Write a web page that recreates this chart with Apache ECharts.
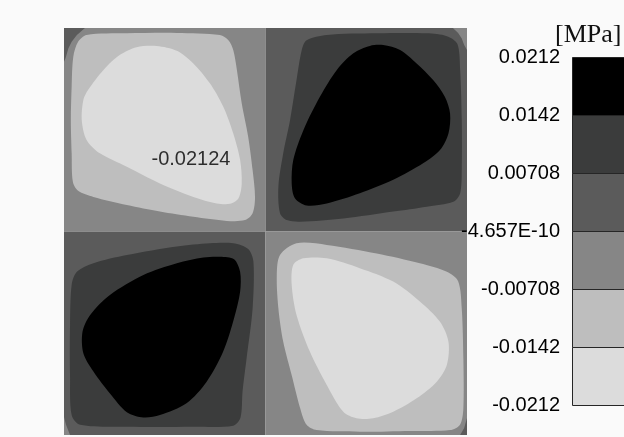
<!DOCTYPE html>
<html>
<head>
<meta charset="utf-8">
<script src="https://cdn.jsdelivr.net/npm/echarts@6/dist/echarts.min.js"></script>
<style>
html,body{margin:0;padding:0;background:#fafafa;}
#chart{width:624px;height:437px;}
</style>
</head>
<body>
<div id="chart"></div>
<script>
// Contour band colours, lowest level first
const bandColors = ['#dcdcdc', '#bebebe', '#868686', '#5b5b5b', '#3b3c3c', '#000000'];
// Level boundaries of the contour bands [MPa]
const levelEdges = [-0.02124, -0.01416, -0.00708, 0, 0.00708, 0.01416, 0.02124];
const tickLabels = ['-0.0212', '-0.0142', '-0.00708', '-4.657E-10', '0.00708', '0.0142', '0.0212'];
// Minimum value and its location on the plate
const minValue = -0.02124;
const minPoint = [31.5, 67.6];

// Quadrant base regions (plate coordinates 0..100, y upward)
const quadTopLeft = [[0, 50], [50, 50], [50, 100], [0, 100]];
const quadTopRight = [[50, 50], [100, 50], [100, 100], [50, 100]];
const quadBottomLeft = [[0, 0], [50, 0], [50, 50], [0, 50]];
const quadBottomRight = [[50, 0], [100, 0], [100, 50], [50, 50]];

// Small corner zones of opposite sign
const cornerTopLeft = [[0, 100], [5.2, 100], [3.2, 98.3], [1.9, 96.6], [1.1, 95.0], [0.4, 92.6], [0, 91.7]];
const cornerTopRight = [[96.5, 100], [100, 100], [100, 94.6], [99.3, 95.8], [98.7, 97.4], [97.8, 98.8]];
const cornerBottomLeft = [[0, 4.4], [0.5, 2.5], [1.5, 0], [0, 0]];
const cornerBottomRight = [[100, 4.2], [100, 0], [98.3, 0], [99.3, 1.7]];

// Top-left lobe (negative)
const tlOuter = [[5.6, 98.3], [15.6, 98.7], [28.0, 98.8], [38.7, 98.3], [40.8, 97.0], [42.0, 94.6], [42.9, 89.7],
  [44.1, 81.5], [45.7, 73.3], [46.8, 65.1], [47.4, 58.5], [46.8, 54.5], [44.9, 52.8], [40.4, 52.6], [32.1, 53.6],
  [23.8, 54.9], [15.6, 56.5], [7.3, 58.5], [3.5, 60.0], [2.2, 62.2], [1.9, 69.2], [1.7, 77.4], [1.9, 85.6],
  [2.3, 92.9], [3.5, 96.6]];
const tlInner = [[6.0, 84.8], [9.8, 89.7], [13.9, 93.4], [18.0, 95.3], [23.0, 95.6], [28.0, 94.4], [32.1, 91.3],
  [36.2, 86.4], [39.5, 80.7], [42.0, 74.1], [43.7, 67.6], [44.1, 61.8], [43.3, 58.2], [41.2, 56.8], [37.9, 56.9],
  [32.1, 58.5], [23.8, 61.8], [15.6, 65.9], [8.9, 69.2], [5.6, 72.5], [4.4, 77.4], [4.8, 82.3]];

// Top-right lobe (positive)
const trOuter = [[60.2, 97.0], [65.2, 98.3], [77.6, 98.7], [90.0, 98.7], [95.0, 98.0], [97.6, 96.1], [98.3, 89.7],
  [98.7, 77.4], [98.7, 65.1], [98.3, 59.4], [96.6, 57.3], [90.0, 56.1], [81.7, 54.9], [69.3, 53.2], [58.6, 52.4],
  [55.3, 52.8], [53.6, 54.5], [53.2, 61.0], [54.4, 69.2], [56.1, 77.4], [57.7, 87.2], [59.0, 94.6]];
const trInner = [[79.2, 95.8], [83.4, 94.6], [87.5, 91.3], [91.6, 87.2], [94.5, 83.1], [95.8, 79.0], [95.4, 74.1],
  [93.3, 70.0], [89.2, 66.8], [81.7, 62.7], [73.4, 59.4], [65.2, 56.9], [60.2, 56.4], [57.3, 58.2], [56.5, 61.8],
  [56.9, 67.6], [59.4, 74.9], [63.5, 83.1], [67.7, 89.7], [71.8, 93.8], [75.9, 95.6]];

// Bottom-left lobe (positive)
const blOuter = [[3.2, 40.1], [7.3, 42.2], [15.6, 44.2], [28.0, 46.3], [36.2, 47.1], [42.0, 47.1], [45.7, 45.7],
  [47.0, 42.6], [46.8, 31.1], [45.3, 18.8], [44.3, 10.6], [43.8, 4.3], [42.0, 2.3], [32.1, 2.0], [15.6, 2.0],
  [4.0, 2.5], [1.9, 4.9], [1.5, 14.7], [1.5, 27.0], [1.9, 36.9]];
const blInner = [[38.7, 43.8], [42.2, 43.2], [43.7, 40.1], [43.7, 35.2], [42.2, 28.7], [39.5, 20.5], [35.4, 13.1],
  [30.4, 7.8], [23.8, 4.9], [19.7, 4.3], [15.6, 5.6], [11.4, 10.2], [7.3, 15.6], [4.8, 20.1], [4.6, 25.4],
  [6.5, 29.5], [11.4, 34.4], [19.7, 39.3], [28.0, 42.2], [34.6, 43.6]];

// Bottom-right lobe (negative)
const brOuter = [[53.6, 44.2], [57.7, 47.1], [65.2, 46.7], [77.6, 44.6], [88.3, 42.2], [95.0, 40.1], [97.8, 37.8],
  [98.7, 31.1], [99.1, 18.8], [99.1, 6.6], [98.3, 2.6], [95.8, 1.2], [85.9, 1.0], [73.4, 0.8], [62.7, 1.2],
  [60.2, 2.5], [58.6, 6.6], [56.5, 14.7], [54.4, 22.9], [53.2, 31.1], [52.8, 39.3]];
const brInner = [[59.4, 43.4], [65.2, 43.4], [73.4, 41.0], [81.7, 37.7], [88.3, 32.8], [93.3, 27.8], [95.4, 22.9],
  [95.0, 17.2], [92.5, 13.1], [87.5, 9.0], [81.7, 5.7], [76.7, 4.1], [72.6, 4.1], [69.3, 5.7], [65.2, 12.3],
  [61.0, 20.5], [57.7, 29.5], [56.5, 36.9], [56.9, 41.8]];

// Drawing order: base quadrants, corners, then nested bands
const layers = [
  { band: 2, pts: quadTopLeft, smooth: 0 },
  { band: 3, pts: quadTopRight, smooth: 0 },
  { band: 3, pts: quadBottomLeft, smooth: 0 },
  { band: 2, pts: quadBottomRight, smooth: 0 },
  { band: 3, pts: cornerTopLeft, smooth: 0 },
  { band: 2, pts: cornerTopRight, smooth: 0 },
  { band: 2, pts: cornerBottomLeft, smooth: 0 },
  { band: 3, pts: cornerBottomRight, smooth: 0 },
  { band: 1, pts: tlOuter, smooth: 0.3 },
  { band: 0, pts: tlInner, smooth: 0.3 },
  { band: 4, pts: trOuter, smooth: 0.3 },
  { band: 5, pts: trInner, smooth: 0.3 },
  { band: 4, pts: blOuter, smooth: 0.3 },
  { band: 5, pts: blInner, smooth: 0.3 },
  { band: 1, pts: brOuter, smooth: 0.3 },
  { band: 0, pts: brInner, smooth: 0.3 }
];

const chart = echarts.init(document.getElementById('chart'), null, { renderer: 'canvas' });

const option = {
  backgroundColor: '#fafafa',
  animation: false,
  grid: [
    { left: 64, top: 28, width: 403, height: 407 },
    { left: 572, top: 57, width: 60, height: 348 }
  ],
  xAxis: [
    { gridIndex: 0, type: 'value', min: 0, max: 100, show: false },
    { gridIndex: 1, type: 'value', min: 0, max: 1, show: false }
  ],
  yAxis: [
    { gridIndex: 0, type: 'value', min: 0, max: 100, show: false },
    {
      gridIndex: 1, type: 'value', min: levelEdges[0], max: levelEdges[levelEdges.length - 1],
      interval: 0.00708, z: 10,
      axisLine: { show: false }, axisTick: { show: false }, splitLine: { show: false },
      axisLabel: {
        show: true, margin: 12, fontSize: 20, color: '#000',
        fontFamily: '"Liberation Sans", Arial, sans-serif',
        showMinLabel: true, showMaxLabel: true,
        formatter: (v, i) => tickLabels[i]
      }
    }
  ],
  graphic: [{
    type: 'text', left: 555, top: 22, z: 20,
    style: { text: '[MPa]', font: '26px "Liberation Serif", "Times New Roman", serif', fill: '#111' }
  }],
  series: [
    {
      type: 'custom', xAxisIndex: 0, yAxisIndex: 0, clip: true, z: 2,
      encode: { x: 0, y: 1 },
      data: layers.map(l => [l.pts[0][0], l.pts[0][1]]),
      renderItem: (params, api) => {
        const layer = layers[params.dataIndex];
        return {
          type: 'polygon',
          shape: { points: layer.pts.map(p => api.coord(p)), smooth: layer.smooth },
          style: { fill: bandColors[layer.band] }
        };
      }
    },
    {
      type: 'scatter', xAxisIndex: 0, yAxisIndex: 0, z: 5, symbolSize: 0,
      data: [[minPoint[0], minPoint[1], minValue]],
      label: {
        show: true, position: 'inside', fontSize: 20, color: '#000',
        fontFamily: '"Liberation Sans", Arial, sans-serif',
        formatter: p => String(p.value[2])
      }
    },
    {
      type: 'custom', xAxisIndex: 1, yAxisIndex: 1, z: 2,
      encode: { x: 0, y: 1 },
      data: bandColors.map((c, i) => [0.5, (levelEdges[i] + levelEdges[i + 1]) / 2]),
      renderItem: (params, api) => {
        const i = params.dataIndex;
        const p0 = api.coord([0, levelEdges[i]]);
        const p1 = api.coord([1, levelEdges[i + 1]]);
        return {
          type: 'rect',
          shape: { x: Math.round(p0[0]) + 0.5, y: Math.round(p1[1]) + 0.5,
                   width: p1[0] - p0[0], height: Math.round(p0[1]) - Math.round(p1[1]) },
          style: { fill: bandColors[i], stroke: '#262626', lineWidth: 1 }
        };
      }
    }
  ]
};
chart.setOption(option);
</script>
</body>
</html>
